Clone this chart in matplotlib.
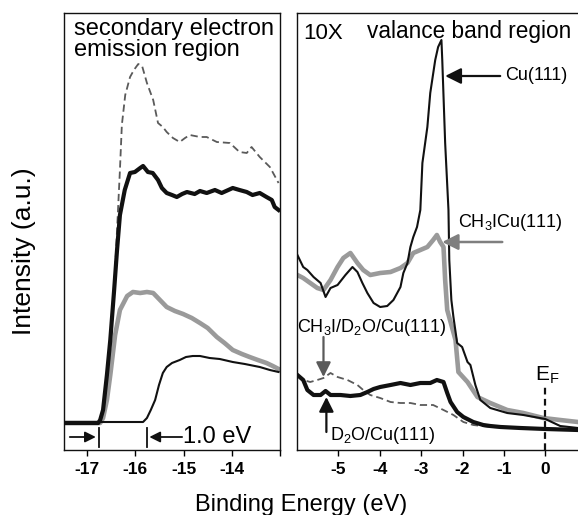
import matplotlib
matplotlib.use("Agg")
import matplotlib.pyplot as plt

plt.rcParams['font.family'] = ['Liberation Sans', 'DejaVu Sans']
plt.rcParams['mathtext.fontset'] = 'custom'
plt.rcParams['mathtext.rm'] = 'Liberation Sans'

# ---------------- data: secondary electron emission region ----------------
sec_dash_E = [-17.48, -16.84, -16.73, -16.63, -16.52, -16.44, -16.38, -16.32, -16.28, -16.21,
              -16.11, -16.03, -15.94, -15.86, -15.76, -15.63, -15.53, -15.43, -15.35, -15.22,
              -15.08, -14.97, -14.87, -14.66, -14.52, -14.31, -14.04, -13.84, -13.69, -13.59,
              -13.42, -13.21, -13.03]
sec_dash_I = [27, 27, 29, 50, 100, 160, 220, 280, 325, 355,
              373, 380, 386, 384, 367, 350, 327, 323, 318, 312,
              308, 312, 315, 313, 313, 308, 307, 298, 297, 303,
              293, 283, 267]

sec_d2o_E = [-17.52, -16.77, -16.73, -16.67, -16.59, -16.52, -16.44, -16.38, -16.32, -16.22,
             -16.11, -16.01, -15.90, -15.84, -15.74, -15.64, -15.53, -15.45, -15.35, -15.24,
             -15.14, -15.03, -14.93, -14.77, -14.66, -14.52, -14.35, -14.21, -13.98, -13.84,
             -13.69, -13.57, -13.42, -13.28, -13.17, -13.11, -13.03]
sec_d2o_I = [27, 27, 30, 40, 75, 110, 160, 200, 235, 260,
             277, 278, 282, 284, 278, 277, 270, 262, 257, 255,
             253, 256, 258, 256, 259, 257, 260, 257, 262, 260,
             258, 255, 257, 253, 250, 243, 240]

sec_ch3i_E = [-17.52, -16.73, -16.67, -16.59, -16.52, -16.42, -16.32, -16.17, -16.05, -15.90,
              -15.76, -15.63, -15.49, -15.35, -15.18, -15.01, -14.83, -14.66, -14.50, -14.31,
              -14.15, -13.98, -13.79, -13.63, -13.46, -13.28, -13.15, -13.03]
sec_ch3i_I = [27, 27, 32, 50, 75, 115, 140, 154, 158, 157,
              158, 157, 150, 143, 139, 136, 132, 127, 122, 113,
              107, 100, 96, 93, 90, 87, 84, 81]

sec_cu_E = [-17.48, -16.73, -15.84, -15.76, -15.68, -15.59, -15.51, -15.43, -15.35, -15.24,
            -15.08, -14.95, -14.81, -14.66, -14.46, -14.25, -13.98, -13.73, -13.42, -13.21,
            -13.03]
sec_cu_I = [28, 28, 28, 32, 40, 50, 65, 77, 83, 87,
            90, 93, 94, 94, 92, 91, 88, 86, 83, 80,
            78]

# ---------------- data: valence band region (10X) ----------------
vb_cu_E = [-5.99, -5.85, -5.75, -5.60, -5.43, -5.31, -5.19, -5.02, -4.83, -4.66,
           -4.54, -4.42, -4.30, -4.15, -3.99, -3.82, -3.67, -3.50, -3.43, -3.33,
           -3.26, -3.19, -3.10, -3.02, -2.97, -2.85, -2.78, -2.66, -2.59, -2.51,
           -2.49, -2.42, -2.34, -2.32, -2.27, -2.22, -2.13, -2.01, -1.88, -1.81,
           -1.69, -1.57, -1.33, -0.92, -0.53, 0.00, 0.36, 0.79]
vb_cu_I = [195, 183, 180, 173, 167, 153, 162, 165, 175, 183,
           178, 167, 157, 147, 143, 144, 150, 163, 177, 187,
           203, 213, 223, 240, 287, 323, 357, 390, 403, 410,
           390, 307, 240, 190, 150, 133, 107, 103, 88, 85,
           65, 50, 42, 37, 35, 31, 24, 22]

vb_ch3i_E = [-5.99, -5.85, -5.68, -5.51, -5.36, -5.19, -5.02, -4.88, -4.71, -4.54,
             -4.40, -4.23, -3.99, -3.74, -3.50, -3.33, -3.19, -3.02, -2.85, -2.71,
             -2.62, -2.54, -2.46, -2.42, -2.37, -2.27, -2.17, -2.10, -1.88, -1.64,
             -1.33, -0.92, -0.53, -0.05, 0.36, 0.79]
vb_ch3i_I = [175, 172, 167, 162, 160, 170, 183, 192, 197, 187,
             180, 175, 177, 178, 182, 187, 197, 200, 203, 210,
             215, 208, 203, 170, 140, 125, 110, 78, 68, 53,
             47, 40, 37, 32, 30, 28]

vb_d2o_E = [-5.99, -5.85, -5.75, -5.60, -5.43, -5.31, -5.19, -4.95, -4.71, -4.47,
            -4.30, -4.15, -3.99, -3.74, -3.50, -3.26, -3.02, -2.78, -2.62, -2.46,
            -2.37, -2.29, -2.13, -1.98, -1.74, -1.50, -1.33, -1.08, -0.60, 0.00,
            0.79]
vb_d2o_I = [75, 70, 60, 55, 55, 59, 55, 55, 54, 55,
            58, 61, 63, 65, 67, 65, 67, 67, 70, 68,
            57, 48, 38, 33, 28, 25, 24, 23, 22, 21,
            20]

vb_dash_E = [-5.99, -5.85, -5.68, -5.51, -5.36, -5.19, -5.02, -4.78, -4.54, -4.40,
             -4.23, -3.99, -3.74, -3.50, -3.26, -3.02, -2.71, -2.46, -2.22, -1.98,
             -1.74, -1.33, -0.60, 0.79]
vb_dash_I = [75, 70, 68, 70, 72, 77, 73, 70, 65, 60,
             55, 52, 48, 47, 47, 45, 45, 40, 35, 28,
             25, 23, 22, 21]

left_ticks = [-17, -16, -15, -14, -13]
left_ticklabels = ['-17', '-16', '-15', '-14', '']
right_ticks = [-5, -4, -3, -2, -1, 0]
right_ticklabels = ['-5', '-4', '-3', '-2', '-1', '0']

# ---------------- styles ----------------
BLACK = '#111111'
GRAY = '#9a9a9a'
DGRAY = '#5a5a5a'
thin = dict(color=BLACK, lw=1.5, solid_joinstyle='round')
thick_b = dict(color=BLACK, lw=3.0, solid_joinstyle='round')
thick_g = dict(color=GRAY, lw=3.3, solid_joinstyle='round')
dashed = dict(color=DGRAY, lw=1.3, dashes=(4, 2.2))

W, H = 578, 515
fig = plt.figure(figsize=(W / 100, H / 100), dpi=100)
axL = fig.add_axes([64 / W, 65 / H, 216 / W, 437 / H])
axR = fig.add_axes([297 / W, 65 / H, 281 / W, 437 / H])

for ax in (axL, axR):
    ax.set_ylim(0, 437)
    ax.set_yticks([])
    for s in ax.spines.values():
        s.set_linewidth(1.0)
        s.set_color(BLACK)
    ax.tick_params(axis='x', direction='out', length=4, width=1.0, pad=5,
                   labelsize=12.5)

# left panel
axL.set_xlim(-17.48, -13.0)
axL.plot(sec_dash_E, sec_dash_I, **dashed)
axL.plot(sec_ch3i_E, sec_ch3i_I, **thick_g)
axL.plot(sec_d2o_E, sec_d2o_I, **thick_b)
axL.plot(sec_cu_E, sec_cu_I, **thin)
axL.set_xticks(left_ticks)
axL.set_xticklabels(left_ticklabels, fontweight='bold')
axL.text(-17.27, 432, 'secondary electron\nemission region', fontsize=17,
         va='top', ha='left', linespacing=0.95)

# 1.0 eV markers
axL.plot([-16.75, -16.75], [3, 22], color=BLACK, lw=1.3)
axL.plot([-15.76, -15.76], [3, 22], color=BLACK, lw=1.3)
axL.annotate('', xy=(-16.82, 13), xytext=(-17.36, 13),
             arrowprops=dict(arrowstyle='-|>', color=BLACK, lw=1.3,
                             mutation_scale=16, shrinkA=0, shrinkB=0))
axL.annotate('', xy=(-15.71, 13), xytext=(-15.03, 13),
             arrowprops=dict(arrowstyle='-|>', color=BLACK, lw=1.3,
                             mutation_scale=16, shrinkA=0, shrinkB=0))
axL.text(-15.01, 13, '1.0 eV', fontsize=17, va='center', ha='left')

# right panel
axR.set_xlim(-6.0, 0.79)
axR.spines['right'].set_visible(False)
axR.plot(vb_dash_E, vb_dash_I, **dashed)
axR.plot(vb_ch3i_E, vb_ch3i_I, **thick_g)
axR.plot(vb_d2o_E, vb_d2o_I, **thick_b)
axR.plot(vb_cu_E, vb_cu_I, **thin)
axR.set_xticks(right_ticks)
axR.set_xticklabels(right_ticklabels, fontweight='bold')

axR.text(-5.85, 427, '10X', fontsize=16, va='top', ha='left')
axR.text(-4.32, 430, 'valance band region', fontsize=16.3, va='top', ha='left')

axR.annotate('', xy=(-2.42, 374), xytext=(-1.09, 374),
             arrowprops=dict(arrowstyle='-|>', color=BLACK, lw=1.6,
                             mutation_scale=24, shrinkA=0, shrinkB=0))
axR.text(-0.97, 374, 'Cu(111)', fontsize=13, va='center', ha='left')

axR.annotate('', xy=(-2.49, 208), xytext=(-1.04, 208),
             arrowprops=dict(arrowstyle='-|>', color='#7f7f7f', lw=1.8,
                             mutation_scale=24, shrinkA=0, shrinkB=0))
axR.text(-2.10, 223, r'$\mathregular{CH_3ICu(111)}$', fontsize=13,
         va='baseline', ha='left')

axR.text(-5.99, 118, r'$\mathregular{CH_3I/D_2O/Cu(111)}$', fontsize=13,
         va='baseline', ha='left')
axR.annotate('', xy=(-5.36, 73), xytext=(-5.36, 113),
             arrowprops=dict(arrowstyle='-|>', color=DGRAY, lw=1.6,
                             mutation_scale=22, shrinkA=0, shrinkB=0))
axR.annotate('', xy=(-5.29, 53), xytext=(-5.29, 18),
             arrowprops=dict(arrowstyle='-|>', color=BLACK, lw=1.6,
                             mutation_scale=22, shrinkA=0, shrinkB=0))
axR.text(-5.20, 10, r'$\mathregular{D_2O/Cu(111)}$', fontsize=13,
         va='baseline', ha='left')

axR.plot([0, 0], [0, 66], color=BLACK, lw=1.6, dashes=(3, 2))
axR.text(-0.25, 69, r'$\mathregular{E_F}$', fontsize=15, va='baseline', ha='left')

fig.text(24 / W, 1 - 251 / H, 'Intensity (a.u.)', rotation=90, fontsize=19,
         ha='center', va='center')
fig.text(301 / W, 4 / H, 'Binding Energy (eV)', fontsize=17,
         ha='center', va='baseline')

fig.savefig('out.png', dpi=100)
